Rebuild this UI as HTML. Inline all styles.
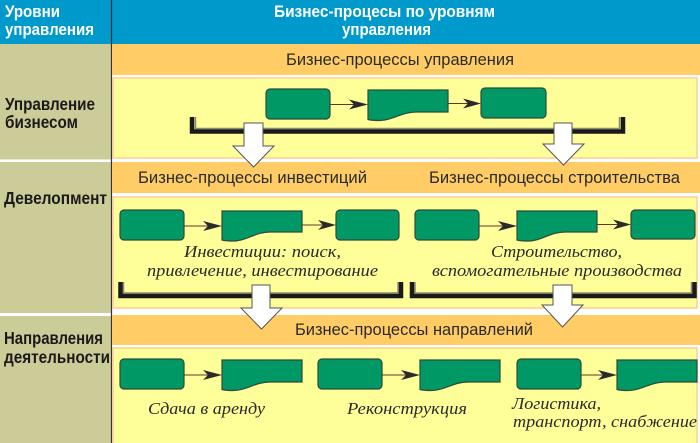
<!DOCTYPE html>
<html><head><meta charset="utf-8"><style>
html,body{margin:0;padding:0;background:#fff;}
svg{display:block;}
.hd{font-family:"Liberation Sans",sans-serif;font-weight:bold;font-size:17px;fill:#fff;}
.lb{font-family:"Liberation Sans",sans-serif;font-weight:bold;font-size:17.5px;fill:#1a1a1a;}
.ob{font-family:"Liberation Sans",sans-serif;font-size:17px;fill:#2a2a2a;}
.it{font-family:"Liberation Serif",serif;font-style:italic;font-size:17px;fill:#2a2a2a;}
.gb{fill:#009966;stroke:#2d4a3a;stroke-width:1.2;}
.ln{stroke:#663333;stroke-width:1;fill:none;}
.ah{fill:#2a2a2a;}
.br{fill:none;stroke:#1a1a1a;stroke-width:4.5;}
.bs{fill:none;stroke:#8a8a70;stroke-width:1.5;}
.wa{fill:#fff;stroke:#555;stroke-width:1;}
</style></head><body>
<svg width="700" height="443" viewBox="0 0 700 443" xmlns="http://www.w3.org/2000/svg">
<rect x="0" y="0" width="700" height="443" fill="#fff"/>
<!-- header -->
<rect x="0" y="0" width="700" height="44" fill="#0099cc"/>
<!-- left column -->
<rect x="0" y="44" width="111" height="399" fill="#cccc99"/>
<rect x="0" y="159.5" width="111" height="2.5" fill="#fff"/>
<rect x="0" y="313" width="111" height="3" fill="#fff"/>
<line x1="111.5" y1="0" x2="111.5" y2="443" stroke="#333" stroke-width="1.2"/>

<!-- orange bands -->
<rect x="112" y="44" width="588" height="31" fill="#ffcc66"/>
<rect x="112" y="162" width="588" height="31" fill="#ffcc66"/>
<rect x="112" y="315" width="588" height="30" fill="#ffcc66"/>

<!-- yellow boxes -->
<rect x="113" y="78" width="584" height="80" fill="#ffff99" stroke="#ffcc99" stroke-width="1.5"/>
<rect x="113" y="197" width="584" height="111" fill="#ffff99" stroke="#ffcc99" stroke-width="1.5"/>
<rect x="113" y="348" width="584" height="100" fill="#ffff99" stroke="#ffcc99" stroke-width="1.5"/>

<!-- header text -->
<text class="hd" x="5" y="17" textLength="55" lengthAdjust="spacingAndGlyphs">Уровни</text>
<text class="hd" x="5" y="35" textLength="89" lengthAdjust="spacingAndGlyphs">управления</text>
<text class="hd" x="274" y="17" textLength="221" lengthAdjust="spacingAndGlyphs">Бизнес-процесы по уровням</text>
<text class="hd" x="342" y="35" textLength="89" lengthAdjust="spacingAndGlyphs">управления</text>

<!-- left labels -->
<text class="lb" x="5" y="110" textLength="90" lengthAdjust="spacingAndGlyphs">Управление</text>
<text class="lb" x="5" y="128" textLength="73" lengthAdjust="spacingAndGlyphs">бизнесом</text>
<text class="lb" x="4" y="204" textLength="103" lengthAdjust="spacingAndGlyphs">Девелопмент</text>
<text class="lb" x="4" y="344" textLength="99" lengthAdjust="spacingAndGlyphs">Направления</text>
<text class="lb" x="4" y="363" textLength="106" lengthAdjust="spacingAndGlyphs">деятельности</text>

<!-- orange band text -->
<text class="ob" x="286" y="65" textLength="228" lengthAdjust="spacingAndGlyphs">Бизнес-процессы управления</text>
<text class="ob" x="138" y="183" textLength="229" lengthAdjust="spacingAndGlyphs">Бизнес-процессы инвестиций</text>
<text class="ob" x="429" y="183" textLength="251" lengthAdjust="spacingAndGlyphs">Бизнес-процессы строительства</text>
<text class="ob" x="295" y="335" textLength="238" lengthAdjust="spacingAndGlyphs">Бизнес-процессы направлений</text>

<!-- ===== Section 1 flow ===== -->
<rect class="gb" x="266" y="89" width="64" height="30" rx="4"/>
<line class="ln" x1="330" y1="104.5" x2="356" y2="104.5"/>
<polygon class="ah" points="368,104.5 349,99.5 354,104.5 349,109.5"/>
<path class="gb" d="M368,90 H448 V112 H416 C401,112 393,120.5 379,120.5 C374,120.5 370,120 368,119.5 Z"/>
<line class="ln" x1="448" y1="103.5" x2="470" y2="103.5"/>
<polygon class="ah" points="481,103.5 463,98.5 468,103.5 463,108.5"/>
<rect class="gb" x="481" y="88" width="65" height="30" rx="4"/>

<!-- top bracket -->
<path class="bs" d="M195.5,117 V128.5 H619.5 V117"/>
<path class="br" d="M192,117 V131.5 H623 V117"/>

<!-- ===== Section 2 flows ===== -->
<rect class="gb" x="120" y="210" width="64" height="30" rx="4"/>
<line class="ln" x1="184" y1="226" x2="210" y2="226"/>
<polygon class="ah" points="222,226 203,221 208,226 203,231"/>
<path class="gb" d="M222,211 H302 V232 H270 C255,232 247,241 233,241 C228,241 224,240.5 222,240 Z"/>
<line class="ln" x1="302" y1="225" x2="325" y2="225"/>
<polygon class="ah" points="336,225 318,220 323,225 318,230"/>
<rect class="gb" x="336" y="210" width="63" height="30" rx="4"/>

<rect class="gb" x="415" y="210" width="64" height="30" rx="4"/>
<line class="ln" x1="479" y1="226" x2="505" y2="226"/>
<polygon class="ah" points="517,226 498,221 503,226 498,231"/>
<path class="gb" d="M517,211 H597 V232 H565 C550,232 542,241 528,241 C523,241 519,240.5 517,240 Z"/>
<line class="ln" x1="597" y1="224.5" x2="620" y2="224.5"/>
<polygon class="ah" points="631,224.5 613,219.5 618,224.5 613,229.5"/>
<rect class="gb" x="631" y="210" width="64" height="29" rx="4"/>

<text class="it" x="184" y="257" textLength="157" lengthAdjust="spacingAndGlyphs">Инвестиции: поиск,</text>
<text class="it" x="147" y="276" textLength="231" lengthAdjust="spacingAndGlyphs">привлечение, инвестирование</text>
<text class="it" x="491" y="257" textLength="131" lengthAdjust="spacingAndGlyphs">Строительство,</text>
<text class="it" x="432" y="276" textLength="250" lengthAdjust="spacingAndGlyphs">вспомогательные производства</text>

<!-- section 2 brackets -->
<path class="bs" d="M123.5,282 V293 H398 V282"/>
<path class="br" d="M120.5,282 V296 H401 V282"/>
<path class="bs" d="M415,282 V293 H691.5 V282"/>
<path class="br" d="M412,282 V296 H694.5 V282"/>

<!-- ===== Section 3 flows ===== -->
<rect class="gb" x="120" y="359" width="64" height="30" rx="4"/>
<line class="ln" x1="184" y1="375" x2="210" y2="375"/>
<polygon class="ah" points="222,375 203,370 208,375 203,380"/>
<path class="gb" d="M222,360 H302 V382 H270 C255,382 247,390.5 233,390.5 C228,390.5 224,390 222,389.5 Z"/>

<rect class="gb" x="318" y="359" width="64" height="30" rx="4"/>
<line class="ln" x1="382" y1="375" x2="408" y2="375"/>
<polygon class="ah" points="420,375 401,370 406,375 401,380"/>
<path class="gb" d="M420,360 H500 V382 H468 C453,382 445,390.5 431,390.5 C426,390.5 422,390 420,389.5 Z"/>

<rect class="gb" x="517" y="359" width="64" height="30" rx="4"/>
<line class="ln" x1="581" y1="375" x2="605" y2="375"/>
<polygon class="ah" points="617,375 598,370 603,375 598,380"/>
<path class="gb" d="M617,360 H697 V382 H665 C650,382 642,390.5 628,390.5 C623,390.5 619,390 617,389.5 Z"/>

<text class="it" x="148" y="414" textLength="117" lengthAdjust="spacingAndGlyphs">Сдача в аренду</text>
<text class="it" x="347" y="414" textLength="120" lengthAdjust="spacingAndGlyphs">Реконструкция</text>
<text class="it" x="512" y="409" textLength="89" lengthAdjust="spacingAndGlyphs">Логистика,</text>
<text class="it" x="513" y="427" textLength="184" lengthAdjust="spacingAndGlyphs">транспорт, снабжение</text>

<!-- big white arrows -->
<polygon class="wa" points="244,123 263,123 263,146 274,146 253.5,167 233,146 244,146"/>
<polygon class="wa" points="554,123 572,123 572,144 584,144 563.5,165 543,144 554,144"/>
<polygon class="wa" points="252,285 270,285 270,308 282,308 261.5,329 241,308 252,308"/>
<polygon class="wa" points="553,285 572,285 572,305 583,305 562.5,327 542,305 553,305"/>
</svg>
</body></html>
